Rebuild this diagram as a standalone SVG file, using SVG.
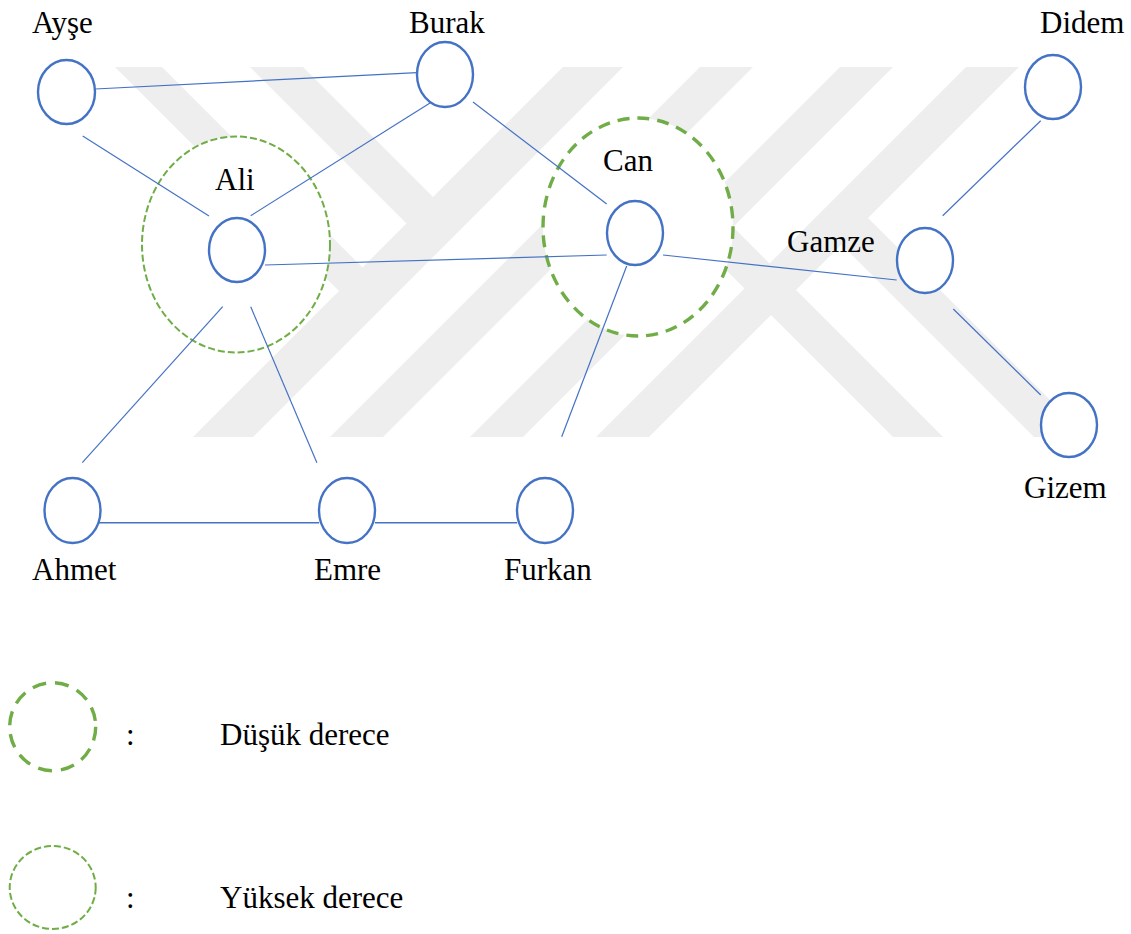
<svg xmlns="http://www.w3.org/2000/svg" width="1131" height="934" viewBox="0 0 1131 934">
<style>
.wm{fill:#eeeeee;stroke:none}
.node{fill:#ffffff;stroke:#4472C4;stroke-width:2.4}
.edge{stroke:#4472C4;stroke-width:1.2;fill:none}
.hi{fill:#ffffff;stroke:#70AD47;stroke-width:2;stroke-dasharray:7 3}
.lo{fill:#ffffff;stroke:#70AD47;stroke-width:3.4;stroke-dasharray:12 8}
text{font-family:'Liberation Serif','Tinos','Times New Roman','DejaVu Serif',serif;font-size:31px;fill:#000000}
</style>
<rect width="1131" height="934" fill="#ffffff"/>
<g id="watermark">
<polygon class="wm" points="563,67 623,67 253,437 193,437"/>
<polygon class="wm" points="700,67 753,67 383,437 330,437"/>
<polygon class="wm" points="840,67 893,67 523,437 470,437"/>
<polygon class="wm" points="966,67 1019,67 649,437 596,437"/>
<polygon class="wm" points="115,67 162,67 367.5,272.5 344,296"/>
<polygon class="wm" points="250,67 303,67 438,202 411.5,228.5"/>
<polygon class="wm" points="710.5,204.5 943,437 893,437 685.5,229.5"/>
<polygon class="wm" points="855,205 1087,437 1034,437 828.5,231.5"/>
</g>
<g id="degree-rings">
<ellipse id="ring-ali" class="hi" cx="236" cy="244.5" rx="94" ry="108"/>
<ellipse id="ring-can" class="lo" cx="638" cy="227" rx="95" ry="109"/>
</g>
<g id="connectors">
<line class="edge" x1="95" y1="89" x2="417" y2="72.7"/>
<line class="edge" x1="82.7" y1="136" x2="209" y2="216"/>
<line class="edge" x1="430" y1="103" x2="250.7" y2="215.7"/>
<line class="edge" x1="265" y1="265" x2="606.7" y2="255"/>
<line class="edge" x1="473" y1="102" x2="606.7" y2="204"/>
<line class="edge" x1="663" y1="255" x2="896.7" y2="280"/>
<line class="edge" x1="626.7" y1="266" x2="561.7" y2="436.7"/>
<line class="edge" x1="942.7" y1="215.7" x2="1040.7" y2="120.7"/>
<line class="edge" x1="953.3" y1="309" x2="1040.7" y2="395"/>
<line class="edge" x1="222.7" y1="306.7" x2="82.3" y2="462.7"/>
<line class="edge" x1="250.7" y1="306.7" x2="316.9" y2="462.7"/>
<line class="edge" x1="95" y1="522.7" x2="319" y2="522.7" style="stroke-width:1.6"/>
<line class="edge" x1="375" y1="522.7" x2="517" y2="522.7" style="stroke-width:1.6"/>
</g>
<g id="node-ayse"><ellipse class="node" cx="66.5" cy="92" rx="28.5" ry="32"/><text x="32" y="33">Ayşe</text></g>
<g id="node-burak"><ellipse class="node" cx="445" cy="74.5" rx="28" ry="32.5"/><text x="409" y="33">Burak</text></g>
<g id="node-didem"><ellipse class="node" cx="1053" cy="87" rx="28" ry="32"/><text x="1040" y="33">Didem</text></g>
<g id="node-ali"><ellipse class="node" cx="237" cy="250" rx="28" ry="32"/><text x="215" y="190">Ali</text></g>
<g id="node-can"><ellipse class="node" cx="635" cy="233" rx="28" ry="32"/><text x="603" y="171">Can</text></g>
<g id="node-gamze"><ellipse class="node" cx="925" cy="260.5" rx="28" ry="32.5"/><text x="787" y="252">Gamze</text></g>
<g id="node-gizem"><ellipse class="node" cx="1069" cy="425" rx="28" ry="32"/><text x="1024" y="498">Gizem</text></g>
<g id="node-ahmet"><ellipse class="node" cx="72.5" cy="510.5" rx="28" ry="32.5"/><text x="32" y="580">Ahmet</text></g>
<g id="node-emre"><ellipse class="node" cx="347" cy="510.5" rx="28" ry="32.5"/><text x="314" y="580">Emre</text></g>
<g id="node-furkan"><ellipse class="node" cx="545" cy="510.5" rx="28" ry="32.5"/><text x="504" y="580">Furkan</text></g>
<g id="legend">
<g id="legend-low"><ellipse class="lo" cx="52.7" cy="726.7" rx="43" ry="44" style="stroke-dasharray:14 9"/><text x="126" y="745">:</text><text x="220" y="745">Düşük derece</text></g>
<g id="legend-high"><ellipse class="hi" cx="52.7" cy="887.5" rx="43" ry="41.5"/><text x="126" y="908">:</text><text x="220" y="908">Yüksek derece</text></g>
</g>
</svg>
